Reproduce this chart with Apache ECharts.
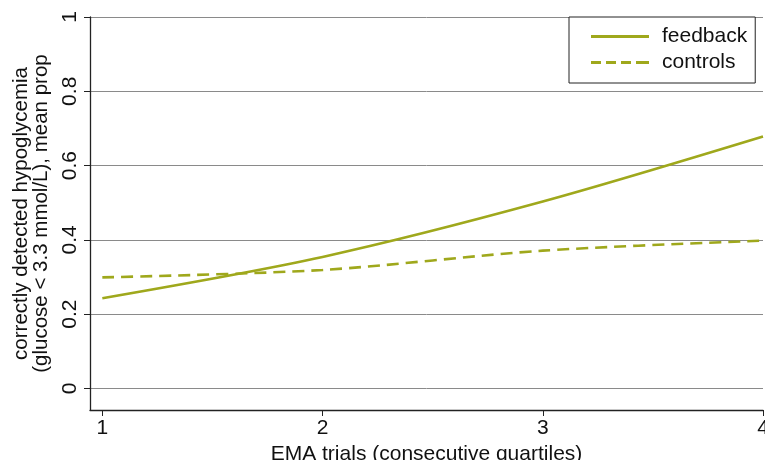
<!DOCTYPE html>
<html><head><meta charset="utf-8">
<script src="https://cdn.jsdelivr.net/npm/echarts@6/dist/echarts.min.js"></script>
<style>html,body{margin:0;padding:0;background:#fff}#c{width:765px;height:460px}</style>
</head><body><div id="c"></div>
<script>
const quartiles = [1, 2, 3, 4];
const feedback = [0.243, 0.354, 0.503, 0.678];
const controls = [0.299, 0.319, 0.371, 0.398];
const xTicks = [1, 2, 3, 4];
const yTicks = [0, 0.2, 0.4, 0.6, 0.8, 1];
const lineColor = '#9fa81c';
const font = '"Liberation Sans", Arial, Helvetica, sans-serif';

const chart = echarts.init(document.getElementById('c'), null, {renderer: 'canvas'});
chart.setOption({
  animation: false,
  backgroundColor: '#fff',
  grid: {left: 90, right: 2, top: 17, bottom: 50, containLabel: false, outerBoundsMode: 'none'},
  xAxis: {
    type: 'value', min: 0.944, max: 4,
    name: 'EMA trials (consecutive quartiles)', nameLocation: 'middle', nameGap: 30,
    nameTextStyle: {fontFamily: font, fontSize: 21, color: '#111'},
    axisLine: {show: true, onZero: false, lineStyle: {color: '#222', width: 1.3}},
    axisTick: {show: true, length: 6, customValues: xTicks, lineStyle: {color: '#222'}},
    axisLabel: {customValues: xTicks, margin: 8, fontFamily: font, fontSize: 21, color: '#111', hideOverlap: false},
    splitLine: {show: false}
  },
  yAxis: {
    type: 'value', min: -0.058, max: 1,
    name: 'correctly detected hypoglycemia\n(glucose < 3.3 mmol/L), mean prop',
    nameLocation: 'middle', nameRotate: 90, nameGap: 29,
    nameTextStyle: {fontFamily: font, fontSize: 20.5, color: '#111', lineHeight: 20},
    axisLine: {show: true, onZero: false, lineStyle: {color: '#222', width: 1.3}},
    axisTick: {show: true, length: 6, customValues: yTicks, lineStyle: {color: '#222'}},
    axisLabel: {customValues: yTicks, rotate: 90, margin: 9, fontFamily: font, fontSize: 21, color: '#111',
      hideOverlap: false, formatter: v => String(Math.round(v * 10) / 10)},
    splitLine: {show: true, lineStyle: {color: '#8a8a8a', width: 1}}
  },
  legend: {
    orient: 'vertical', left: 569, top: 17,
    padding: [9, 8, 10, 22], itemGap: 5,
    itemWidth: 58, itemHeight: 3,
    backgroundColor: '#fff', borderColor: '#222', borderWidth: 1,
    textStyle: {fontFamily: font, fontSize: 21, color: '#111', padding: [0, 0, 0, 8]},
    data: [
      {name: 'feedback', icon: 'path://M0,0h58v3h-58z'},
      {name: 'controls', icon: 'path://M0,0h10v3h-10zM15,0h10v3h-10zM30,0h10v3h-10zM45,0h13v3h-13z'}
    ]
  },
  series: [
    {name: 'feedback', type: 'line', smooth: 0.3, symbol: 'none',
     data: quartiles.map((q, i) => [q, feedback[i]]),
     lineStyle: {color: lineColor, width: 2.6}, itemStyle: {color: lineColor}},
    {name: 'controls', type: 'line', smooth: 0.3, symbol: 'none',
     data: quartiles.map((q, i) => [q, controls[i]]),
     lineStyle: {color: lineColor, width: 2.6, type: [12, 7]}, itemStyle: {color: lineColor}}
  ]
});
</script></body></html>
